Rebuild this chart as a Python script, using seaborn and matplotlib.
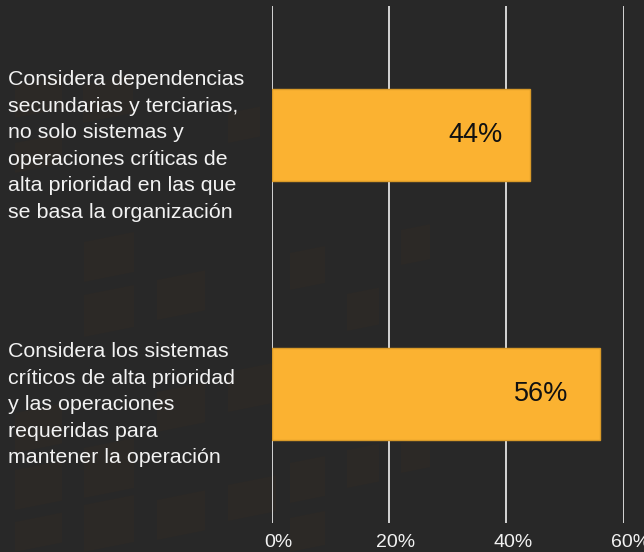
import matplotlib
matplotlib.use("Agg")
import matplotlib.pyplot as plt
import matplotlib.transforms as mtransforms
from matplotlib.patches import Polygon
import seaborn as sns
import pandas as pd

categories = [
    "Considera dependencias\nsecundarias y terciarias,\nno solo sistemas y\noperaciones críticas de\nalta prioridad en las que\nse basa la organización",
    "Considera los sistemas\ncríticos de alta prioridad\ny las operaciones\nrequeridas para\nmantener la operación",
]
values = [44, 56]
x_ticks = [0, 20, 40, 60]
x_tick_labels = ["0%", "20%", "40%", "60%"]
value_labels = ["44%", "56%"]

BG = "#282828"
BAR = "#FBB231"
GRID = "#d4d4d4"
TEXT = "#f2f2f2"
TILE = "#2c2926"

# faint slanted tiles of the backdrop: (left px, top px, width px, height px)
tiles = [
    (15, 85, 47, 33), (83, 85, 50, 38), (228, 113, 32, 30), (15, 143, 47, 30),
    (84, 242, 50, 40), (84, 295, 50, 42), (157, 280, 48, 40), (15, 413, 47, 40),
    (84, 448, 50, 50), (157, 392, 48, 40), (15, 470, 47, 40), (84, 505, 50, 47),
    (157, 500, 48, 40), (15, 522, 47, 30), (228, 372, 48, 40), (228, 485, 48, 36),
    (290, 253, 35, 37), (347, 294, 32, 37), (401, 230, 29, 35), (290, 463, 35, 40),
    (347, 450, 32, 38), (401, 443, 29, 30), (290, 518, 35, 34),
]

sns.set_theme(style="dark")
plt.rcParams["font.family"] = ["Liberation Sans", "DejaVu Sans"]

df = pd.DataFrame({"cat": categories, "val": values})

W, H = 644, 552
fig = plt.figure(figsize=(W / 100, H / 100), dpi=100, facecolor=BG)

# backdrop tiles, drawn in figure pixel space (origin top-left), beneath the axes
for (lx, ty, w, h) in tiles:
    slant = w * 0.2
    pts = [(lx, ty + h), (lx + w, ty + h - slant), (lx + w, ty - slant), (lx, ty)]
    pts = [(x / W, 1 - y / H) for x, y in pts]
    fig.patches.append(Polygon(pts, closed=True, transform=fig.transFigure,
                               facecolor=TILE, edgecolor="none", zorder=-5))

ax = fig.add_axes([0.4219, 0.0525, 0.5466, 0.9366])
ax.set_facecolor("none")
ax.set_zorder(2)

sns.barplot(data=df, x="val", y="cat", orient="h", color=BAR, width=0.355,
            edgecolor="#D99A28", linewidth=1.0, saturation=1, ax=ax, zorder=3)

ax.set_xlim(0, 60)
ax.set_ylim(1.5, -0.5)
ax.set_xticks(x_ticks)
ax.set_xticklabels(x_tick_labels)
for v in x_ticks:
    ax.axvline(v, color=GRID, lw=1.4, zorder=1)
ax.grid(False)
for s in ax.spines.values():
    s.set_visible(False)

ax.tick_params(axis="x", length=0, pad=8, labelsize=14, labelcolor=TEXT)
shift = mtransforms.ScaledTranslation(7 / 100, 0, fig.dpi_scale_trans)
for lab in ax.get_xticklabels():
    lab.set_transform(lab.get_transform() + shift)

ax.set_yticks(range(len(categories)))
ax.set_yticklabels(categories, ha="left", linespacing=1.5)
ax.tick_params(axis="y", length=0, pad=190, labelsize=15.4, labelcolor=TEXT)
for lab in ax.get_yticklabels():
    lab.set_transform(lab.get_transform() + mtransforms.ScaledTranslation(0, -5 / 100, fig.dpi_scale_trans))

ax.set_xlabel("")
ax.set_ylabel("")

for i, (v, lab) in enumerate(zip(values, value_labels)):
    ax.annotate(lab, xy=(v, i), xytext=(-27 if v < 50 else -32, 0), textcoords="offset pixels",
                ha="right", va="center", fontsize=19.5, color="#111111", zorder=5)

fig.savefig("out.png", dpi=100, facecolor=BG)
